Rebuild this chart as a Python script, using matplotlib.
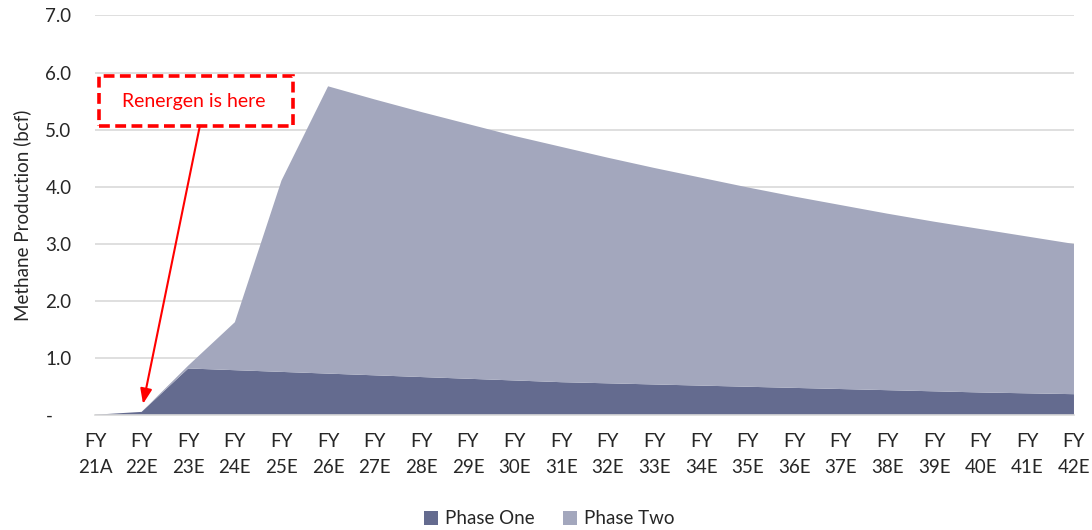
import matplotlib.pyplot as plt
from matplotlib.patches import Patch, Rectangle

# Production profile, billion cubic feet per year
years = ["21A", "22E", "23E", "24E", "25E", "26E", "27E", "28E", "29E", "30E", "31E",
         "32E", "33E", "34E", "35E", "36E", "37E", "38E", "39E", "40E", "41E", "42E"]
phase_one = [0.01, 0.06, 0.82, 0.79, 0.76, 0.73, 0.70, 0.67, 0.64, 0.61, 0.58,
             0.56, 0.54, 0.52, 0.50, 0.48, 0.46, 0.44, 0.42, 0.40, 0.385, 0.37]
phase_two = [0.00, 0.00, 0.05, 0.84, 3.35, 5.03, 4.83, 4.64, 4.46, 4.28, 4.12,
             3.95, 3.79, 3.64, 3.49, 3.35, 3.22, 3.09, 2.97, 2.86, 2.745, 2.63]
y_ticks = [0, 1, 2, 3, 4, 5, 6, 7]
y_labels = ["-    ", "1.0", "2.0", "3.0", "4.0", "5.0", "6.0", "7.0"]

c_one = "#646b8f"
c_two = "#a3a7bd"

plt.rcParams["font.family"] = ["Lato", "DejaVu Sans"]

fig = plt.figure(figsize=(10.92, 5.30), dpi=100)
ax = fig.add_axes([0.087, 0.2164, 0.8965, 0.7544])

x = list(range(len(years)))
ax.stackplot(x, phase_one, phase_two, colors=[c_one, c_two], linewidth=0, zorder=2)

ax.set_xlim(0, len(years) - 1)
ax.set_ylim(0, 7)
ax.set_yticks(y_ticks)
ax.set_yticklabels(y_labels, fontsize=13.5, color="#262626")
ax.set_xticks(x)
ax.set_xticklabels(["FY\n" + y for y in years], fontsize=13.5, color="#262626",
                   linespacing=1.6)
ax.tick_params(axis="both", length=0)
ax.tick_params(axis="x", pad=13)
ax.tick_params(axis="y", pad=17)
ax.grid(axis="y", color="#d9d9d9", linewidth=1.2, zorder=0)
ax.set_axisbelow(True)
for s in ["top", "right", "left"]:
    ax.spines[s].set_visible(False)
ax.spines["bottom"].set_color("#d9d9d9")
ax.spines["bottom"].set_linewidth(1.2)

ax.set_ylabel("Methane Production (bcf)", fontsize=13.5, color="#262626", labelpad=10)

# dashed call-out box with arrow pointing at FY22
box = Rectangle((0.09, 5.07), 4.16, 0.87, fill=False, edgecolor="#ff0000",
                linestyle=(0, (3, 1.5)), linewidth=2.6, zorder=5, clip_on=False)
ax.add_patch(box)
ax.text(2.12, 5.5, "Renergen is here", color="#ff0000", fontsize=14,
        ha="center", va="center", zorder=6)
ax.annotate("", xy=(1.03, 0.2), xytext=(2.25, 5.07),
            arrowprops=dict(arrowstyle="-|>,head_length=0.9,head_width=0.35",
                            color="#ff0000", linewidth=1.5, shrinkA=0, shrinkB=0),
            zorder=6)

handles = [Patch(facecolor=c_one, label="Phase One"), Patch(facecolor=c_two, label="Phase Two")]
fig.legend(handles=handles, loc="lower center", bbox_to_anchor=(0.503, -0.027), ncol=2,
           frameon=False, fontsize=13.5, handlelength=0.75, handleheight=0.75,
           handletextpad=0.4, columnspacing=1.5, labelcolor="#262626")

fig.savefig("out.png", dpi=100)
plt.close(fig)
